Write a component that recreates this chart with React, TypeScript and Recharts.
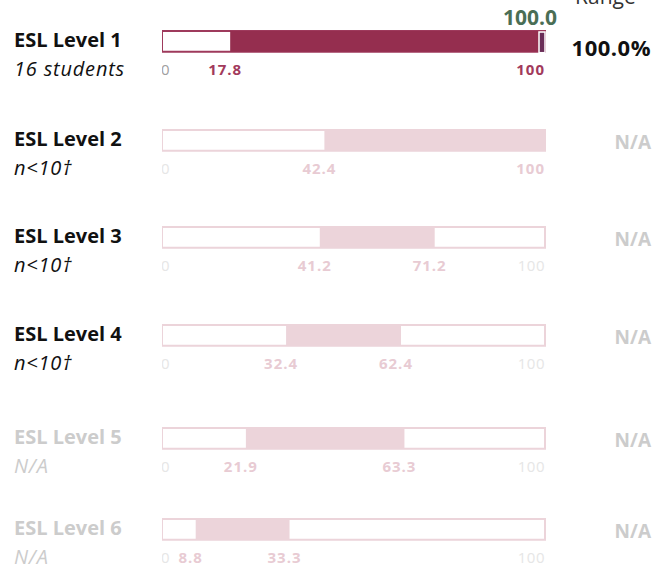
import React from "react";
import { BarChart, Bar, XAxis, YAxis } from "recharts";

const levels = ["ESL Level 1", "ESL Level 2", "ESL Level 3", "ESL Level 4", "ESL Level 5", "ESL Level 6"];
const subLabels = ["16 students", "n<10†", "n<10†", "n<10†", "N/A", "N/A"];
const lows = [17.8, 42.4, 41.2, 32.4, 21.9, 8.8];
const highs = [100, 100, 71.2, 62.4, 63.3, 33.3];
const markers: (number | null)[] = [100.0, null, null, null, null, null];
const rates = ["100.0%", "N/A", "N/A", "N/A", "N/A", "N/A"];

// row layout (page px)
const rowTops = [30, 129, 226, 324, 427, 518];
const BAR_LEFT = 162;
const BAR_W = 383;
const BAR_H = 23;
const TOP_PAD = 30;
const RIGHT_PAD = 40;
const FONT = "'Open Sans', Lato, sans-serif";

const DARK = "#952e4f";
const LIGHT = "#ecd4da";

const RowTick = (props: any) => {
  const { x, y, payload, low, high, active } = props;
  const v = payload.value;
  const hl = v === low || v === high;
  let anchor = "middle";
  let dx = -5;
  if (v === 0) {
    anchor = "start";
    dx = -1;
  } else if (v === 100) {
    anchor = "end";
    dx = 0;
  }
  let fill = active ? "#a0a0a0" : "#e6e6e6";
  if (hl) fill = active ? "#a23a5c" : "#e8cbd3";
  return (
    <text
      x={x + dx}
      y={y + 16}
      textAnchor={anchor}
      dominantBaseline="central"
      fontFamily={FONT}
      fontSize={15}
      letterSpacing={hl ? 1 : 0.5}
      fontWeight={hl ? 700 : 400}
      fill={fill}
    >
      {String(v)}
    </text>
  );
};

const MarkerShape = (props: any) => {
  const { x, y, width, height, payload } = props;
  if (payload.marker == null) return null;
  const mx = x + width - 3;
  return (
    <g>
      <rect x={mx - 3} y={y + 1} width={6} height={height} fill="#6a2d57" stroke="#fff" strokeWidth={1.5} />
      <text
        x={mx - 12}
        y={y - 14}
        textAnchor="middle"
        dominantBaseline="central"
        fontFamily={FONT}
        fontSize={21}
        fontWeight={700}
        fill="#4a6e55"
      >
        {payload.marker.toFixed(1)}
      </text>
    </g>
  );
};

const Row = ({ i }: { i: number }) => {
  const active = i === 0;
  const low = lows[i];
  const high = highs[i];
  const data = [
    {
      name: levels[i],
      full: [0, 100],
      range: [low, high],
      marker: markers[i],
    },
  ];
  const ticks = Array.from(new Set([0, low, high, 100]));
  return (
    <div style={{ position: "absolute", left: BAR_LEFT, top: rowTops[i] - TOP_PAD }}>
      <BarChart
        width={BAR_W + RIGHT_PAD}
        height={TOP_PAD + BAR_H + 30}
        data={data}
        layout="vertical"
        margin={{ top: TOP_PAD, right: RIGHT_PAD, bottom: 0, left: 0 }}
      >
        <XAxis
          type="number"
          domain={[0, 100]}
          ticks={ticks}
          interval={0}
          axisLine={false}
          tickLine={false}
          tickSize={0}
          tickMargin={0}
          height={30}
          tick={(p: any) => <RowTick {...p} low={low} high={high} active={active} />}
        />
        {/* one hidden category axis per layer so the bars sit on top of each other */}
        <YAxis yAxisId="full" type="category" dataKey="name" hide />
        <YAxis yAxisId="range" type="category" dataKey="name" hide />
        <YAxis yAxisId="marker" type="category" dataKey="name" hide />
        <Bar
          yAxisId="full"
          dataKey="full"
          barSize={BAR_H}
          fill="#fff"
          stroke={active ? "#9e3a5c" : LIGHT}
          strokeWidth={2}
          isAnimationActive={false}
        />
        <Bar
          yAxisId="range"
          dataKey="range"
          barSize={BAR_H}
          fill={active ? DARK : LIGHT}
          isAnimationActive={false}
        />
        <Bar
          yAxisId="marker"
          dataKey={(d: any) => (d.marker == null ? null : [0, d.marker])}
          barSize={BAR_H}
          shape={MarkerShape}
          isAnimationActive={false}
        />
      </BarChart>
    </div>
  );
};

export default function App() {
  return (
    <div
      style={{
        position: "absolute",
        left: 0,
        top: 0,
        width: 668,
        height: 569,
        overflow: "hidden",
        fontFamily: FONT,
        background: "#fff",
      }}
    >
      <div style={{ position: "absolute", left: 575, top: -16, fontSize: 21, color: "#333", lineHeight: "24px" }}>
        Range
      </div>
      {levels.map((lvl, i) => {
        const dim = subLabels[i] === "N/A";
        const top = rowTops[i];
        const na = rates[i] === "N/A";
        return (
          <React.Fragment key={lvl}>
            <div
              style={{
                position: "absolute",
                left: 14,
                top: top - 2,
                fontSize: 20,
                fontWeight: 700,
                lineHeight: "24px",
                color: dim ? "#cccccc" : "#111",
              }}
            >
              {lvl}
            </div>
            <div
              style={{
                position: "absolute",
                left: 14,
                top: top + 27,
                fontSize: 20,
                letterSpacing: 0.8,
                fontStyle: "italic",
                lineHeight: "24px",
                color: dim ? "#cccccc" : "#111",
              }}
            >
              {subLabels[i]}
            </div>
            <div
              style={{
                position: "absolute",
                right: 17,
                top: top + (na ? 1 : 5),
                fontSize: na ? 19 : 22,
                letterSpacing: na ? 0 : 0.5,
                fontWeight: 700,
                lineHeight: "24px",
                color: na ? "#cccccc" : "#111",
              }}
            >
              {rates[i]}
            </div>
            <Row i={i} />
          </React.Fragment>
        );
      })}
    </div>
  );
}
